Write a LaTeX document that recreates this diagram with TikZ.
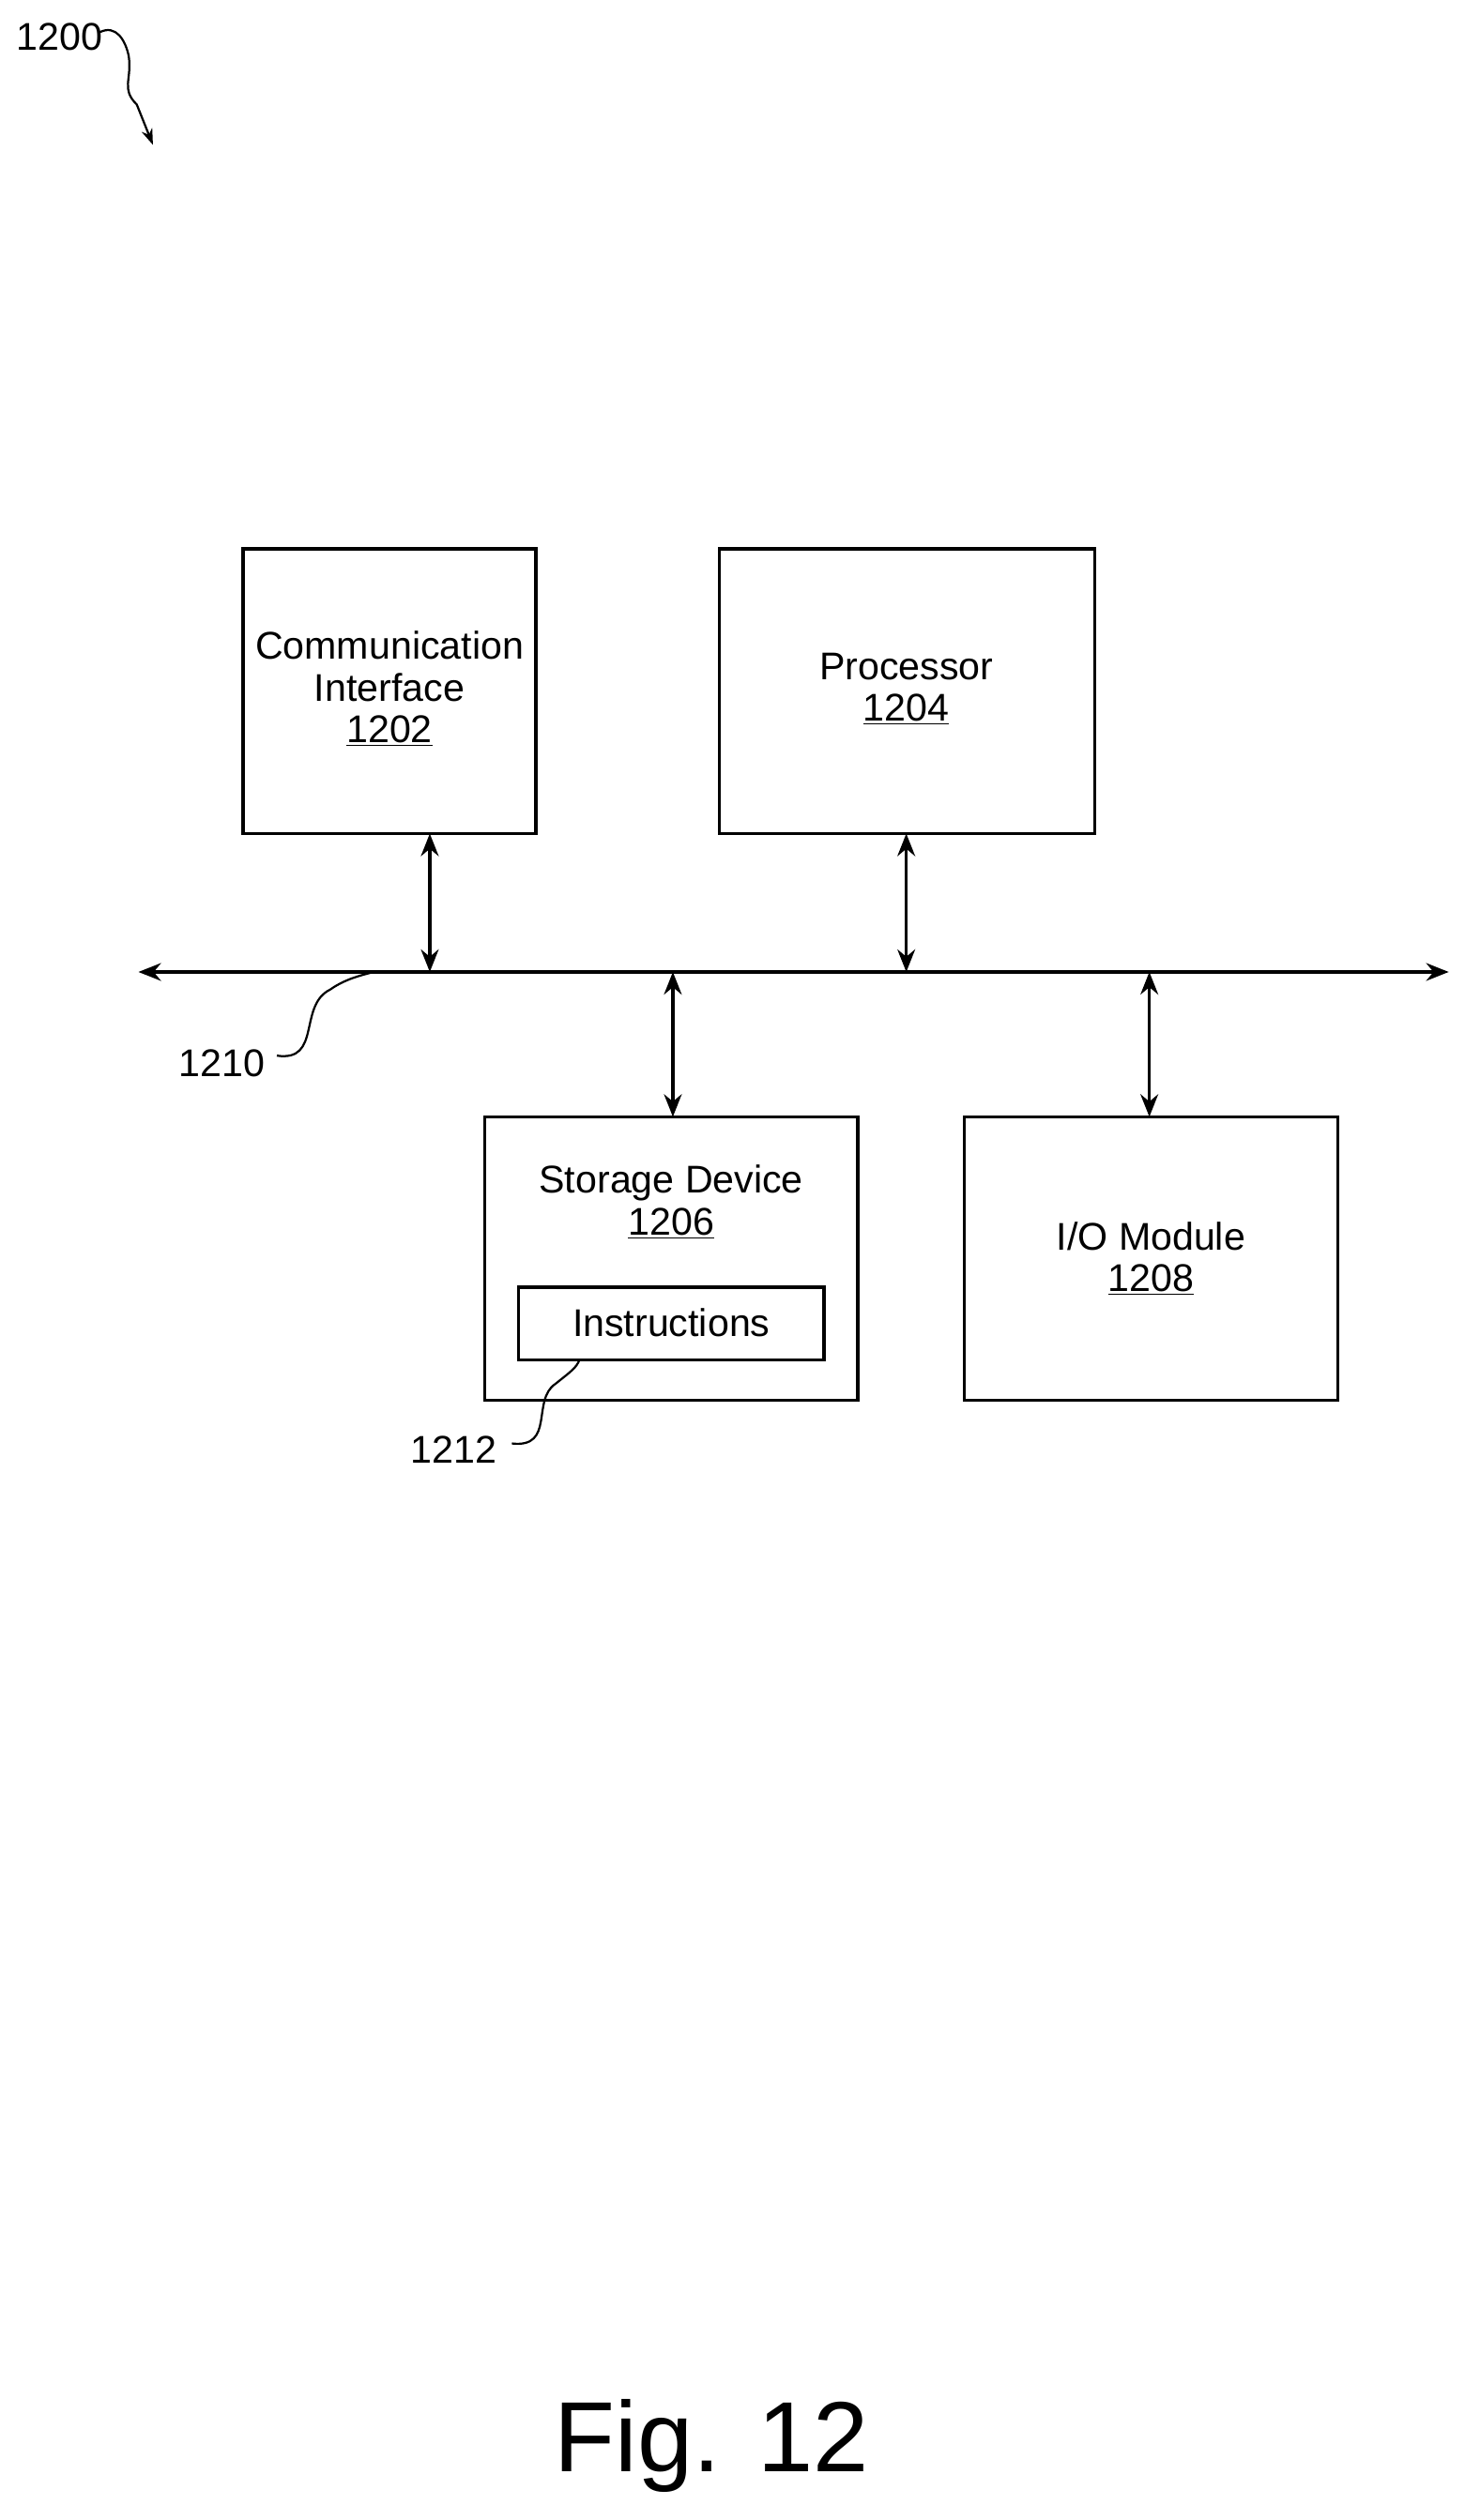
\documentclass[tikz,border=0pt]{standalone}
\usepackage{fontspec}
\setmainfont{Liberation Sans}
\usetikzlibrary{arrows.meta}
\begin{document}
\begin{tikzpicture}[x=1pt,y=-1pt,
 box/.style={draw,line width=2pt,inner sep=0pt},
 lbl/.style={font=\fontsize{24}{30}\selectfont,align=center},
 dbl/.style={line width=2pt,{Stealth[length=14pt,width=11pt]}-{Stealth[length=14pt,width=11pt]}},
 lead/.style={line width=1.3pt}]
\useasboundingbox (0,0) rectangle (910,1566);
\draw[box] (151,341) rectangle (333,518);
\node[lbl] (t1202) at (242,428) {Communication\\[-4pt]Interface\\[-4pt]\underline{1202}};
\draw[box] (447,341) rectangle (680,518);
\node[lbl] (t1204) at (563,428) {Processor\\[-4pt]\underline{1204}};
\draw[box] (301,694) rectangle (533,870);
\node[lbl] (t1206) at (417,747) {Storage Device\\[-4pt]\underline{1206}};
\draw[box] (322,800) rectangle (512,845);
\node[lbl] (tin) at (417,822) {Instructions};
\draw[box] (599,694) rectangle (831,870);
\node[lbl] (t1208) at (715,782) {I/O Module\\[-4pt]\underline{1208}};
\coordinate (bl) at (86,604); \coordinate (br) at (900,604);
\draw[dbl] (bl) -- (br);
\draw[dbl] (267,518) -- (267,604);
\draw[dbl] (563,518) -- (563,604);
\draw[dbl] (418,604) -- (418,694);
\draw[dbl] (714,604) -- (714,694);
\node[lbl,anchor=east] (l1210) at (168,661) {1210};
\draw[lead] (172,656) .. controls (200,660) and (185,625) .. (205,615) .. controls (215,608) and (225,606) .. (232,604);
\node[lbl,anchor=east] (l1212) at (312,901) {1212};
\draw[lead] (318,897) .. controls (345,900) and (330,870) .. (345,860) .. controls (355,852) and (358,850) .. (360,845);
\node[lbl,anchor=west,inner sep=0pt] (l1200) at (10,23) {1200};
\draw[lead,-{Stealth[length=10pt,width=7pt]}] (62,20) .. controls (72,15) and (78,25) .. (80,35) .. controls (82,50) and (75,55) .. (85,65) -- (95,90);
\node[font=\fontsize{62}{70}\selectfont] (fig) at (442,1520) {Fig. 12};
\end{tikzpicture}
\end{document}
